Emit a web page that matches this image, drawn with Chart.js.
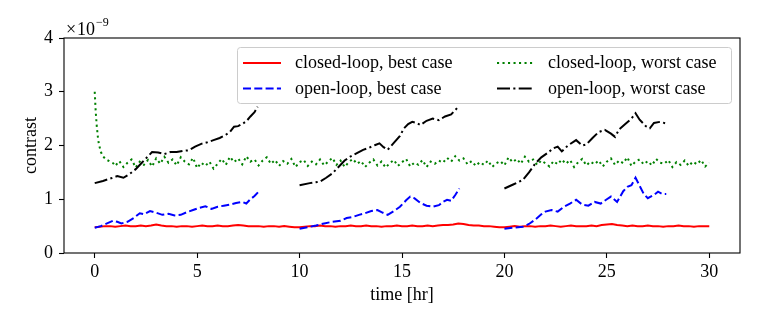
<!DOCTYPE html>
<html><head><meta charset="utf-8">
<script src="https://cdn.jsdelivr.net/npm/chart.js@4.4.1/dist/chart.umd.min.js"></script>
<style>html,body{margin:0;padding:0;background:#fff;}canvas{display:block;}</style>
</head><body>
<canvas id="c" width="763" height="327"></canvas>
<script>
const FONT = "'Liberation Serif','Times New Roman',serif";
const xTicks = [0, 5, 10, 15, 20, 25, 30];
const yTicks = [0, 1, 2, 3, 4];
const seriesNames = ["closed-loop, best case", "open-loop, best case", "closed-loop, worst case", "open-loop, worst case"];

// closed-loop, best case (every 0.25 hr from 0 to 30)
const closedBestV = [
 0.48,0.49,0.50,0.50,0.49,0.50,0.51,0.50,
 0.50,0.51,0.50,0.51,0.53,0.51,0.50,0.50,
 0.49,0.50,0.50,0.49,0.50,0.51,0.50,0.50,
 0.51,0.50,0.50,0.51,0.52,0.51,0.50,0.50,
 0.50,0.49,0.50,0.50,0.49,0.50,0.49,0.48,
 0.48,0.49,0.50,0.50,0.51,0.50,0.50,0.49,
 0.50,0.50,0.51,0.50,0.50,0.51,0.50,0.50,
 0.49,0.50,0.50,0.51,0.50,0.50,0.51,0.50,
 0.50,0.51,0.50,0.51,0.52,0.52,0.53,0.55,
 0.54,0.52,0.51,0.51,0.50,0.50,0.49,0.48,
 0.48,0.49,0.50,0.49,0.50,0.50,0.49,0.50,
 0.50,0.51,0.50,0.49,0.50,0.51,0.50,0.50,
 0.50,0.51,0.50,0.52,0.53,0.54,0.52,0.51,
 0.50,0.51,0.50,0.50,0.51,0.50,0.50,0.49,
 0.50,0.50,0.51,0.50,0.50,0.49,0.50,0.50,
 0.50];

// closed-loop, worst case: initial decay, then every 0.2 hr from 1 to 30
const closedWorstStartT = [0,0.05,0.1,0.15,0.2,0.3,0.4,0.5,0.6,0.75,0.9];
const closedWorstStartV = [3.0,2.62,2.36,2.17,2.03,1.88,1.80,1.76,1.73,1.70,1.67];
const closedWorstV = [
 1.62,1.71,1.60,1.68,1.74,1.59,1.70,1.64,1.73,1.61,
 1.76,1.66,1.79,1.68,1.74,1.63,1.78,1.70,1.65,1.77,
 1.58,1.68,1.62,1.70,1.57,1.66,1.75,1.64,1.79,1.69,
 1.76,1.65,1.80,1.70,1.74,1.63,1.72,1.78,1.66,1.73,
 1.62,1.71,1.66,1.75,1.60,1.69,1.73,1.62,1.70,1.65,
 1.74,1.63,1.70,1.77,1.64,1.72,1.60,1.69,1.75,1.66,
 1.71,1.60,1.68,1.74,1.63,1.70,1.59,1.67,1.73,1.62,
 1.69,1.75,1.61,1.68,1.64,1.73,1.60,1.70,1.66,1.72,
 1.68,1.77,1.70,1.80,1.72,1.76,1.65,1.71,1.62,1.69,
 1.64,1.72,1.60,1.67,1.71,1.63,1.78,1.69,1.75,1.66,
 1.79,1.70,1.74,1.64,1.72,1.67,1.61,1.71,1.65,1.74,
 1.66,1.73,1.60,1.69,1.75,1.63,1.70,1.65,1.72,1.61,
 1.70,1.76,1.64,1.72,1.67,1.78,1.62,1.70,1.74,1.65,
 1.71,1.63,1.75,1.68,1.66,1.73,1.60,1.69,1.64,1.72,
 1.62,1.70,1.65,1.73,1.61,1.68];

// open-loop, best case (three runs)
const openBest1T = [0,0.3,0.6,0.9,1.1,1.3,1.6,1.9,2.2,2.4,2.7,3.0,3.3,3.6,3.9,4.2,4.5,4.8,5.1,5.4,5.7,6.0,6.3,6.6,6.9,7.2,7.4,7.6,7.8,8.0];
const openBest1V = [0.47,0.50,0.55,0.60,0.58,0.55,0.58,0.65,0.74,0.72,0.78,0.75,0.71,0.73,0.70,0.71,0.76,0.80,0.84,0.87,0.82,0.86,0.88,0.90,0.93,0.95,0.92,1.00,1.06,1.14];
const openBest2T = [10.0,10.4,10.8,11.2,11.6,12.0,12.3,12.6,12.9,13.2,13.5,13.8,14.0,14.3,14.6,14.9,15.2,15.4,15.6,15.9,16.2,16.5,16.8,17.0,17.2,17.4,17.6,17.8];
const openBest2V = [0.45,0.48,0.51,0.55,0.58,0.60,0.65,0.67,0.71,0.74,0.78,0.80,0.76,0.71,0.78,0.86,0.98,1.05,1.02,0.93,0.88,0.86,0.89,0.95,0.99,0.97,1.08,1.20];
const openBest3T = [20.0,20.4,20.9,21.2,21.5,21.8,22.0,22.3,22.6,22.9,23.2,23.5,23.8,24.1,24.4,24.7,25.0,25.2,25.5,25.8,26.0,26.2,26.4,26.6,26.8,27.0,27.3,27.5,27.7,27.9];
const openBest3V = [0.45,0.47,0.49,0.54,0.62,0.72,0.77,0.80,0.77,0.86,0.92,0.99,0.90,0.88,0.95,0.92,1.00,1.05,0.95,1.15,1.23,1.26,1.40,1.25,1.10,1.02,1.08,1.14,1.10,1.10];

// open-loop, worst case (three runs)
const openWorst1T = [0,0.4,0.8,1.1,1.4,1.7,2.0,2.3,2.5,2.8,3.1,3.4,3.7,4.0,4.3,4.6,4.9,5.2,5.5,5.8,6.1,6.4,6.6,6.8,7.0,7.2,7.4,7.6,7.8,7.95];
const openWorst1V = [1.30,1.34,1.39,1.43,1.40,1.47,1.56,1.68,1.76,1.88,1.87,1.84,1.88,1.88,1.90,1.91,1.98,2.03,2.06,2.10,2.14,2.20,2.25,2.35,2.36,2.40,2.45,2.54,2.62,2.72];
const openWorst2T = [10.0,10.5,11.0,11.3,11.6,11.9,12.2,12.5,12.8,13.1,13.4,13.7,13.9,14.1,14.3,14.6,14.9,15.1,15.3,15.5,15.7,15.9,16.2,16.5,16.8,17.1,17.4,17.7];
const openWorst2V = [1.26,1.30,1.33,1.40,1.48,1.60,1.72,1.80,1.86,1.92,1.96,2.01,2.04,1.97,1.92,2.05,2.18,2.32,2.40,2.44,2.42,2.38,2.46,2.50,2.47,2.54,2.58,2.70];
const openWorst3T = [20.0,20.4,20.9,21.2,21.5,21.8,22.1,22.4,22.6,22.8,23.1,23.5,23.8,24.0,24.3,24.6,24.9,25.2,25.4,25.6,25.9,26.2,26.4,26.6,26.9,27.1,27.3,27.6,27.9];
const openWorst3V = [1.20,1.27,1.36,1.50,1.66,1.78,1.86,1.95,1.98,1.89,2.00,2.10,2.00,2.02,2.14,2.25,2.29,2.22,2.16,2.30,2.40,2.50,2.60,2.48,2.36,2.32,2.42,2.44,2.41];

// ---- build point lists ----
function gridTimes(start, step, n){ const a=[]; for(let i=0;i<n;i++) a.push(+(start+i*step).toFixed(3)); return a; }
function pts(T, V){ return T.map((t,i)=>({x:t, y:V[i]})); }
function joinRuns(runs){ const out=[]; runs.forEach((r,k)=>{ if(k>0) out.push({x:(out[out.length-1].x + r[0].x)/2, y:null}); out.push(...r); }); return out; }

const closedBest = pts(gridTimes(0,0.25,closedBestV.length), closedBestV);
const closedWorst = pts(closedWorstStartT, closedWorstStartV).concat(pts(gridTimes(1,0.2,closedWorstV.length), closedWorstV));
const openBest = joinRuns([pts(openBest1T,openBest1V), pts(openBest2T,openBest2V), pts(openBest3T,openBest3V)]);
const openWorst = joinRuns([pts(openWorst1T,openWorst1V), pts(openWorst2T,openWorst2V), pts(openWorst3T,openWorst3V)]);

const styles = [
  {color:'#ff0000', dash:[]},
  {color:'#0000ff', dash:[8,3.3]},
  {color:'#008000', dash:[2.1,3.4]},
  {color:'#000000', dash:[13,3.3,2.1,3.3]}
];
const dataSets = [closedBest, openBest, closedWorst, openWorst];
const drawOrder = [0,2,1,3];

const decor = {
  id:'decor',
  afterDraw(chart){
    const {ctx, chartArea:a} = chart;
    ctx.save();
    ctx.strokeStyle='#000'; ctx.lineWidth=1.1;
    ctx.strokeRect(a.left, a.top, a.right-a.left, a.bottom-a.top);
    // offset text  (×10^-9)
    ctx.fillStyle='#000';
    ctx.textBaseline='alphabetic'; ctx.textAlign='left';
    ctx.font = '18px ' + FONT;
    ctx.fillText('\u00d7', 66, 35);
    ctx.fillText('10', 77, 35);
    const w = ctx.measureText('10').width;
    ctx.font = '12px ' + FONT;
    ctx.fillText('\u22129', 77 + w + 1, 26);
    // legend
    const L=237, T=47, R=731, B=103;
    ctx.beginPath();
    ctx.roundRect(L+0.5, T+0.5, R-L, B-T, 3);
    ctx.fillStyle='rgba(255,255,255,0.8)'; ctx.fill();
    ctx.strokeStyle='#cccccc'; ctx.lineWidth=1; ctx.stroke();
    const cols=[243, 497], rows=[63, 88.5], textX=[295, 548];
    for(let i=0;i<4;i++){
      const c = Math.floor(i/2), r = i%2;
      const s = styles[i];
      ctx.beginPath();
      ctx.setLineDash(s.dash);
      ctx.strokeStyle=s.color; ctx.lineWidth=2;
      ctx.moveTo(cols[c], rows[r]); ctx.lineTo(cols[c]+38, rows[r]);
      ctx.stroke();
      ctx.setLineDash([]);
      ctx.fillStyle='#000'; ctx.font='18px '+FONT; ctx.textBaseline='alphabetic';
      ctx.fillText(seriesNames[i], textX[c], rows[r]+5);
    }
    ctx.restore();
  }
};

new Chart(document.getElementById('c'), {
  type:'line',
  data:{ datasets: dataSets.map((d,i)=>({
    label: seriesNames[i], data: d,
    borderColor: styles[i].color, borderDash: styles[i].dash, borderWidth: 2,
    pointRadius:0, tension:0, fill:false, spanGaps:false,
    order: drawOrder.indexOf(i) * -1
  }))},
  options:{
    responsive:false, animation:false, devicePixelRatio:1,
    layout:{padding:{top:38, right:23, left:0, bottom:0}},
    plugins:{legend:{display:false}, tooltip:{enabled:false}},
    scales:{
      x:{ type:'linear', min:-1.5, max:31.5,
        afterBuildTicks: s => { s.ticks = xTicks.map(v=>({value:v})); },
        afterFit: s => { s.height = 74; },
        grid:{ display:true, drawOnChartArea:false, drawTicks:true, tickLength:5, tickColor:'#000', tickWidth:1.1 },
        border:{ display:false },
        ticks:{ color:'#000', padding:3, font:{family:FONT, size:18}, maxRotation:0 },
        title:{ display:true, text:'time [hr]', color:'#000', font:{family:FONT, size:18}, padding:{top:0, bottom:21} }
      },
      y:{ type:'linear', min:0, max:4,
        afterBuildTicks: s => { s.ticks = yTicks.map(v=>({value:v})); },
        afterFit: s => { s.width = 64; },
        grid:{ display:true, drawOnChartArea:false, drawTicks:true, tickLength:5, tickColor:'#000', tickWidth:1.1 },
        border:{ display:false },
        ticks:{ color:'#000', padding:6, font:{family:FONT, size:18} },
        title:{ display:true, text:'contrast', color:'#000', font:{family:FONT, size:18}, padding:{top:20, bottom:0} }
      }
    }
  },
  plugins:[decor]
});
</script>
</body></html>
